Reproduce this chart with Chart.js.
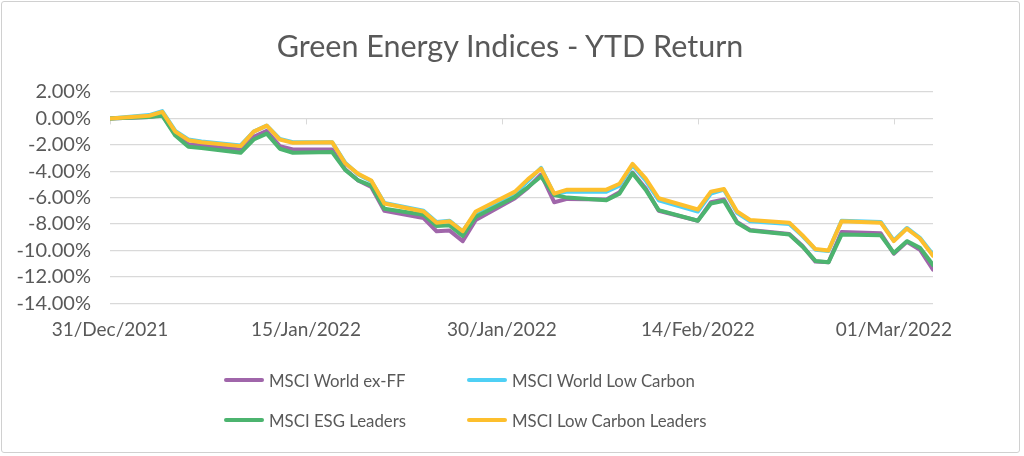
<!DOCTYPE html>
<html>
<head>
<meta charset="utf-8">
<title>Green Energy Indices - YTD Return</title>
<script src="https://cdn.jsdelivr.net/npm/chart.js@4.4.0/dist/chart.umd.min.js"></script>
<style>
  html, body { margin: 0; padding: 0; background: #fff; }
  #wrap { position: relative; width: 1024px; height: 456px; overflow: hidden; font-family: Lato, 'Open Sans', sans-serif; }
  #chart { position: absolute; left: 0; top: 0; }
  #frame { position: absolute; left: 1px; top: 1px; width: 1017px; height: 450px; border: 1px solid #d0d0d0; border-radius: 3px; pointer-events: none; }
  #title { position: absolute; left: 0; width: 1020px; top: 26px; text-align: center; color: #595959; font-size: 30.5px; line-height: 38px; }
  #legend { position: absolute; left: 224px; top: 360px; display: grid; grid-template-columns: 243px auto; grid-auto-rows: 40px; }
  .item { display: flex; align-items: center; color: #595959; font-size: 16.8px; white-space: nowrap; }
  .swatch { width: 40px; height: 4px; border-radius: 2px; margin-right: 5px; }
</style>
</head>
<body>
<div id="wrap">
  <canvas id="chart" width="1024" height="456"></canvas>
  <div id="title">Green Energy Indices - YTD Return</div>
  <div id="legend"></div>
  <div id="frame"></div>
</div>
<script>
// trading days, YTD from 31 Dec 2021
const dates = [
  '2021-12-31', '2022-01-03', '2022-01-04', '2022-01-05', '2022-01-06', '2022-01-07',
  '2022-01-10', '2022-01-11', '2022-01-12', '2022-01-13', '2022-01-14',
  '2022-01-17', '2022-01-18', '2022-01-19', '2022-01-20', '2022-01-21',
  '2022-01-24', '2022-01-25', '2022-01-26', '2022-01-27', '2022-01-28',
  '2022-01-31', '2022-02-01', '2022-02-02', '2022-02-03', '2022-02-04',
  '2022-02-07', '2022-02-08', '2022-02-09', '2022-02-10', '2022-02-11',
  '2022-02-14', '2022-02-15', '2022-02-16', '2022-02-17', '2022-02-18',
  '2022-02-21', '2022-02-22', '2022-02-23', '2022-02-24', '2022-02-25',
  '2022-02-28', '2022-03-01', '2022-03-02', '2022-03-03', '2022-03-04'
];

// YTD return, %
const worldExFF = [
  0.00, 0.10, 0.25, -1.20, -1.95, -2.05,
  -2.35, -1.40, -0.95, -2.10, -2.35,
  -2.35, -3.85, -4.70, -5.20, -7.00,
  -7.55, -8.55, -8.50, -9.30, -7.70,
  -6.05, -5.25, -4.25, -6.35, -6.10,
  -6.15, -5.60, -4.10, -5.30, -7.00,
  -7.75, -6.35, -6.15, -7.85, -8.45,
  -8.75, -9.65, -10.85, -10.90, -8.60,
  -8.70, -10.25, -9.35, -9.95, -11.45
];
const worldLowCarbon = [
  0.00, 0.25, 0.55, -0.95, -1.60, -1.75,
  -2.05, -1.00, -0.55, -1.55, -1.80,
  -1.80, -3.35, -4.25, -4.75, -6.40,
  -7.00, -7.85, -7.75, -8.55, -7.15,
  -5.70, -4.75, -3.75, -5.75, -5.55,
  -5.55, -5.10, -3.55, -4.70, -6.20,
  -7.05, -5.70, -5.40, -7.15, -7.80,
  -8.00, -8.90, -9.95, -10.05, -7.75,
  -7.85, -9.25, -8.30, -9.05, -10.30
];
const esgLeaders = [
  0.00, 0.10, 0.20, -1.30, -2.15, -2.25,
  -2.60, -1.60, -1.15, -2.30, -2.60,
  -2.55, -3.90, -4.70, -5.10, -6.85,
  -7.30, -8.15, -8.10, -8.90, -7.45,
  -5.95, -5.20, -4.40, -5.80, -6.00,
  -6.20, -5.70, -4.15, -5.40, -6.95,
  -7.75, -6.45, -6.25, -7.90, -8.50,
  -8.80, -9.70, -10.80, -10.90, -8.80,
  -8.85, -10.20, -9.30, -9.80, -11.10
];
const lowCarbonLeaders = [
  0.00, 0.20, 0.50, -1.00, -1.65, -1.80,
  -2.10, -1.00, -0.55, -1.60, -1.85,
  -1.80, -3.40, -4.20, -4.70, -6.45,
  -7.05, -7.90, -7.80, -8.55, -7.05,
  -5.55, -4.60, -3.80, -5.70, -5.40,
  -5.40, -4.95, -3.45, -4.55, -6.05,
  -6.90, -5.55, -5.35, -7.05, -7.70,
  -7.90, -8.85, -9.90, -10.00, -7.80,
  -7.90, -9.30, -8.35, -9.10, -10.40
];

const seriesNames = ['MSCI World ex-FF', 'MSCI World Low Carbon', 'MSCI ESG Leaders', 'MSCI Low Carbon Leaders'];
const seriesValues = [worldExFF, worldLowCarbon, esgLeaders, lowCarbonLeaders];
const seriesColors = ['#a066aa', '#4fd0f5', '#4cb46f', '#fdbf2d'];
const xTickDays = [0, 15, 30, 45, 60];

const MONTHS = ['Jan', 'Feb', 'Mar', 'Apr', 'May', 'Jun', 'Jul', 'Aug', 'Sep', 'Oct', 'Nov', 'Dec'];
const DAY = 86400000;
const start = Date.UTC(2021, 11, 31);

function dayOffset(s) {
  const [y, m, d] = s.split('-').map(Number);
  return Math.round((Date.UTC(y, m - 1, d) - start) / DAY);
}
function fmtDay(n) {
  const d = new Date(start + n * DAY);
  return String(d.getUTCDate()).padStart(2, '0') + '/' + MONTHS[d.getUTCMonth()] + '/' + d.getUTCFullYear();
}

const textColor = '#595959';
const font = 'Lato, "Open Sans", sans-serif';

const datasets = seriesNames.map((name, i) => ({
  label: name,
  data: dates.map((d, j) => ({ x: dayOffset(d), y: seriesValues[i][j] })),
  borderColor: seriesColors[i],
  backgroundColor: seriesColors[i],
  borderWidth: 4,
  pointRadius: 0,
  tension: 0,
  borderJoinStyle: 'round',
  borderCapStyle: 'round',
  order: seriesNames.length - 1 - i // later series drawn on top, like Excel
}));

// small tick marks hanging off the 0% line
const zeroTicks = {
  id: 'zeroTicks',
  beforeDatasetsDraw(chart) {
    const { ctx, scales: { x, y } } = chart;
    const y0 = y.getPixelForValue(0);
    ctx.save();
    ctx.strokeStyle = '#d9d9d9';
    ctx.lineWidth = 1;
    xTickDays.forEach(v => {
      const px = Math.round(x.getPixelForValue(v)) + 0.5;
      ctx.beginPath();
      ctx.moveTo(px, y0);
      ctx.lineTo(px, y0 + 6);
      ctx.stroke();
    });
    ctx.restore();
  }
};

new Chart(document.getElementById('chart'), {
  type: 'line',
  data: { datasets },
  plugins: [zeroTicks],
  options: {
    responsive: false,
    animation: false,
    events: [],
    layout: { padding: { top: 92, left: 0, right: 91, bottom: 100 } },
    plugins: {
      legend: { display: false },
      tooltip: { enabled: false },
      title: { display: false }
    },
    scales: {
      x: {
        type: 'linear',
        min: 0,
        max: dayOffset(dates[dates.length - 1]),
        afterBuildTicks(scale) { scale.ticks = xTickDays.map(v => ({ value: v })); },
        ticks: {
          color: textColor,
          font: { family: font, size: 19 },
          padding: 15,
          maxRotation: 0,
          autoSkip: false,
          callback: v => fmtDay(v)
        },
        grid: { display: false, drawTicks: false },
        border: { display: false }
      },
      y: {
        min: -14,
        max: 2,
        afterFit(scale) { scale.width = 110; },
        ticks: {
          stepSize: 2,
          autoSkip: false,
          color: textColor,
          font: { family: font, size: 20 },
          padding: 19,
          callback: v => v.toFixed(2) + '%'
        },
        grid: { color: '#d9d9d9', lineWidth: 1.2, drawTicks: false },
        border: { display: false }
      }
    }
  }
});

// legend, two columns like the original
const legend = document.getElementById('legend');
seriesNames.forEach((name, i) => {
  const item = document.createElement('div');
  item.className = 'item';
  const sw = document.createElement('span');
  sw.className = 'swatch';
  sw.style.background = seriesColors[i];
  item.appendChild(sw);
  item.appendChild(document.createTextNode(name));
  legend.appendChild(item);
});
</script>
</body>
</html>
